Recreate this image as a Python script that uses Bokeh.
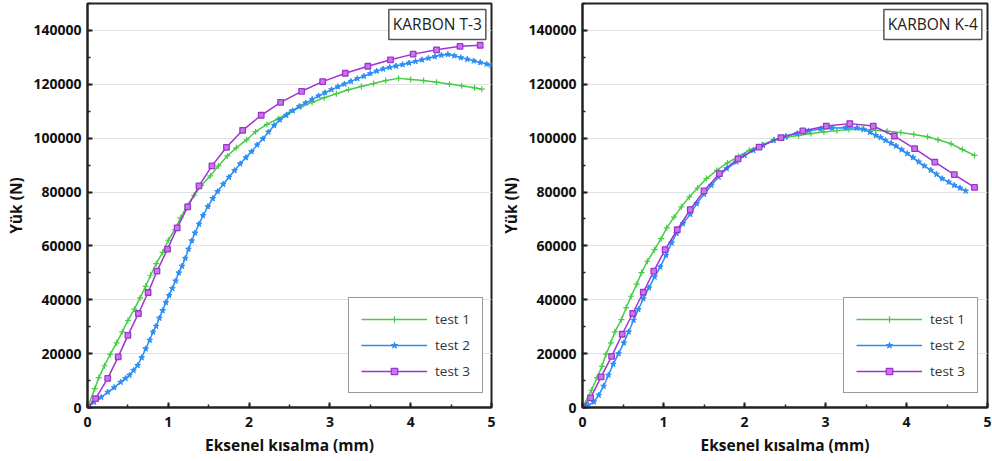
from bokeh.plotting import figure
from bokeh.layouts import row
from bokeh.models import Label, Legend, LegendItem, SingleIntervalTicker, Range1d
from bokeh.embed import file_html
from bokeh.resources import INLINE

# ---- KARBON T-3 : axial shortening (mm) vs load (N) ----
t3_test1_x = [0, 0.09, 0.14, 0.21, 0.28, 0.36, 0.43, 0.50, 0.58, 0.65, 0.72, 0.78, 0.85, 0.93, 1.00,
              1.08, 1.15, 1.23, 1.32, 1.41, 1.52, 1.62, 1.73, 1.84, 1.97, 2.08, 2.22, 2.36, 2.50, 2.64,
              2.78, 2.93, 3.08, 3.23, 3.39, 3.54, 3.69, 3.85, 4.00, 4.16, 4.32, 4.48, 4.63, 4.79, 4.88]
t3_test1_y = [0, 7000, 11100, 15500, 19700, 24000, 28100, 32300, 36500, 40700, 45000, 49100, 53400, 57600, 62100,
              66000, 70400, 74800, 78800, 82500, 86000, 89700, 93400, 96400, 99400, 102400, 105100, 107200, 109600, 111600,
              113300, 115000, 116500, 118000, 119200, 120300, 121400, 122200, 121800, 121400, 120800, 120100, 119500, 118700, 118200]

t3_test2_x = [0, 0.08, 0.17, 0.25, 0.33, 0.41, 0.47, 0.52, 0.57, 0.62, 0.67, 0.72, 0.77, 0.81, 0.85, 0.89, 0.93,
              0.97, 1.01, 1.05, 1.09, 1.13, 1.17, 1.21, 1.25, 1.29, 1.33, 1.38, 1.43, 1.49, 1.55, 1.61, 1.68,
              1.75, 1.82, 1.89, 1.96, 2.03, 2.10, 2.17, 2.24, 2.31, 2.38, 2.46, 2.54, 2.62, 2.70, 2.78, 2.86,
              2.94, 3.02, 3.10, 3.18, 3.26, 3.34, 3.42, 3.50, 3.58, 3.66, 3.74, 3.82, 3.90, 3.98, 4.06, 4.14,
              4.22, 4.30, 4.38, 4.46, 4.54, 4.62, 4.70, 4.78, 4.86, 4.94, 5.00]
t3_test2_y = [0, 2000, 3800, 5700, 7400, 9400, 10800, 12000, 13800, 15600, 18500, 21800, 25000, 28000, 30200, 33200, 36000,
              39000, 41600, 44200, 47000, 50000, 52500, 55400, 58800, 61900, 64800, 68100, 71300, 74600, 77600, 80200, 82900,
              85500, 88000, 90500, 92800, 95000, 97500, 99800, 102300, 104700, 106800, 108500, 110200, 111800, 113100, 114400, 115700,
              116900, 118000, 119100, 120100, 121100, 122100, 123000, 124000, 124900, 125700, 126300, 126800, 127300, 127900, 128500, 129100,
              129700, 130300, 130800, 131100, 130600, 129900, 129300, 128700, 128100, 127500, 127000]

t3_test3_x = [0, 0.10, 0.25, 0.38, 0.50, 0.63, 0.75, 0.86, 0.99, 1.11, 1.24, 1.38, 1.54, 1.72, 1.92,
              2.15, 2.39, 2.65, 2.91, 3.19, 3.47, 3.75, 4.03, 4.32, 4.61, 4.86]
t3_test3_y = [0, 3300, 10800, 18800, 26800, 34900, 42700, 50600, 58800, 66700, 74500, 82300, 89700, 96600, 102900,
              108500, 113300, 117400, 121000, 124100, 126700, 129100, 131200, 132800, 134100, 134500]

# ---- KARBON K-4 ----
k4_test1_x = [0, 0.11, 0.18, 0.24, 0.29, 0.35, 0.40, 0.48, 0.54, 0.60, 0.67, 0.73, 0.80, 0.89, 0.97,
              1.04, 1.13, 1.22, 1.32, 1.42, 1.53, 1.66, 1.79, 1.93, 2.06, 2.22, 2.37, 2.52, 2.67, 2.82,
              2.98, 3.14, 3.29, 3.45, 3.62, 3.76, 3.93, 4.09, 4.26, 4.39, 4.55, 4.69, 4.84]
k4_test1_y = [0, 6400, 11100, 15300, 19800, 24000, 28100, 32600, 37100, 41300, 45800, 50100, 54300, 58600, 62700,
              66700, 70700, 74500, 78200, 81500, 85000, 88100, 90800, 93300, 95500, 97600, 99400, 100400, 101000, 101700,
              102300, 102800, 103200, 103300, 102900, 102600, 102100, 101400, 100500, 99400, 97900, 95800, 93600]

k4_test2_x = [0, 0.07, 0.14, 0.20, 0.26, 0.32, 0.38, 0.445, 0.51, 0.57, 0.63, 0.69, 0.75, 0.82, 0.89,
              0.96, 1.03, 1.10, 1.16, 1.24, 1.33, 1.41, 1.50, 1.59, 1.68, 1.78, 1.90, 2.00, 2.11, 2.23,
              2.36, 2.51, 2.65, 2.79, 2.94, 3.08, 3.25, 3.39, 3.47, 3.55, 3.62, 3.68, 3.74, 3.81, 3.87,
              3.94, 4.01, 4.08, 4.15, 4.22, 4.30, 4.37, 4.44, 4.52, 4.59, 4.66, 4.73]
k4_test2_y = [0, 800, 2100, 4600, 7900, 12000, 16100, 20000, 24000, 28100, 32400, 36400, 40400, 44500, 48500,
              52200, 56500, 61100, 64600, 68300, 71700, 75700, 79200, 82500, 85600, 88700, 91200, 93600, 95500, 97300,
              99200, 100700, 101700, 102700, 103400, 103800, 103900, 103800, 103300, 102200, 101000, 100300, 99200, 98100, 97100,
              95700, 94300, 92800, 91200, 89700, 88100, 86600, 85000, 83700, 82500, 81500, 80400]

k4_test3_x = [0, 0.10, 0.23, 0.36, 0.49, 0.62, 0.75, 0.88, 1.02, 1.17, 1.33, 1.50, 1.69, 1.92,
              2.18, 2.45, 2.72, 3.01, 3.30, 3.59, 3.85, 4.10, 4.35, 4.59, 4.84]
k4_test3_y = [0, 3600, 11400, 19000, 27200, 34900, 42800, 50600, 58600, 66000, 73500, 80400, 86800, 92300,
              96700, 100200, 102700, 104500, 105400, 104500, 100800, 96100, 91100, 86500, 81700]

series_labels = ["test 1", "test 2", "test 3"]
panel_titles = ["KARBON T-3", "KARBON K-4"]
x_label = "Eksenel kısalma (mm)"
y_label = "Yük (N)"

GREEN = "#45cc45"
BLUE = "#2a8ef5"
PURPLE = "#a032d2"
FONT = "Open Sans"


def make_panel(title, data, border_left):
    p = figure(width=496, height=461, output_backend="svg", toolbar_location=None,
               x_range=Range1d(0, 5), y_range=Range1d(0, 150000),
               min_border_left=border_left, min_border_right=5,
               min_border_top=3, min_border_bottom=54)
    p.background_fill_color = "white"
    p.border_fill_color = "white"
    p.outline_line_color = "#222222"
    p.outline_line_width = 2

    p.xaxis.ticker = SingleIntervalTicker(interval=1, num_minor_ticks=2)
    p.yaxis.ticker = SingleIntervalTicker(interval=20000, num_minor_ticks=2)
    p.yaxis.formatter.use_scientific = False
    for ax in (p.xaxis, p.yaxis):
        ax.axis_line_color = "#222222"
        ax.axis_line_width = 2
        ax.major_tick_in = 5
        ax.major_tick_out = 0
        ax.minor_tick_in = 3
        ax.minor_tick_out = 0
        ax.major_tick_line_color = "#222222"
        ax.major_tick_line_width = 2
        ax.minor_tick_line_color = "#222222"
        ax.minor_tick_line_width = 1.5
        ax.major_label_text_font = FONT
        ax.major_label_text_font_style = "bold"
        ax.major_label_text_font_size = "14px"
        ax.major_label_text_color = "#111111"
        ax.axis_label_text_font = FONT
        ax.axis_label_text_font_style = "bold"
        ax.axis_label_text_font_size = "15.5px"
        ax.axis_label_text_color = "#111111"
    p.xaxis.axis_label = x_label
    p.yaxis.axis_label = y_label
    p.xaxis.major_label_standoff = 9
    p.yaxis.major_label_standoff = 6
    p.xaxis.axis_label_standoff = 4
    p.yaxis.axis_label_standoff = 3

    p.xgrid.visible = False
    p.ygrid.grid_line_color = "#e2e2e2"
    p.ygrid.grid_line_width = 1.2

    (x1, y1), (x2, y2), (x3, y3) = data
    l1 = p.line(x1, y1, line_color=GREEN, line_width=1.5)
    s1 = p.scatter(x1, y1, marker="cross", size=6, line_color=GREEN, line_width=1.2)
    l2 = p.line(x2, y2, line_color=BLUE, line_width=1.5)
    s2 = p.scatter(x2, y2, marker="star", size=6, line_color=BLUE, fill_color=BLUE)
    l3 = p.line(x3, y3, line_color=PURPLE, line_width=1.5)
    s3 = p.scatter(x3, y3, marker="square", size=5.5, line_color=PURPLE, line_width=1.3,
                   fill_color="#c47ae6")

    legend = Legend(items=[LegendItem(label=series_labels[0], renderers=[l1, s1]),
                           LegendItem(label=series_labels[1], renderers=[l2, s2]),
                           LegendItem(label=series_labels[2], renderers=[l3, s3])],
                    location=(261, 14))
    legend.border_line_color = "#333333"
    legend.border_line_width = 1.5
    legend.background_fill_color = "white"
    legend.background_fill_alpha = 1
    legend.label_text_font = FONT
    legend.label_text_font_size = "13.5px"
    legend.label_text_color = "#333333"
    legend.glyph_width = 66
    legend.glyph_height = 16
    legend.label_standoff = 8
    legend.spacing = 8
    legend.padding = 12
    legend.margin = 0
    p.add_layout(legend, "center")

    p.add_layout(Label(x=4.93, y=147800, text=title, anchor="top_right",
                       text_font=FONT, text_font_size="15.5px", text_color="#222222",
                       padding=4, border_line_color="#555555", border_line_width=1.5,
                       background_fill_color="white"))
    return p


p1 = make_panel(panel_titles[0],
                [(t3_test1_x, t3_test1_y), (t3_test2_x, t3_test2_y), (t3_test3_x, t3_test3_y)], 87)
p2 = make_panel(panel_titles[1],
                [(k4_test1_x, k4_test1_y), (k4_test2_x, k4_test2_y), (k4_test3_x, k4_test3_y)], 86)

layout = row(p1, p2)
open("out.html", "w").write(file_html(layout, INLINE))
